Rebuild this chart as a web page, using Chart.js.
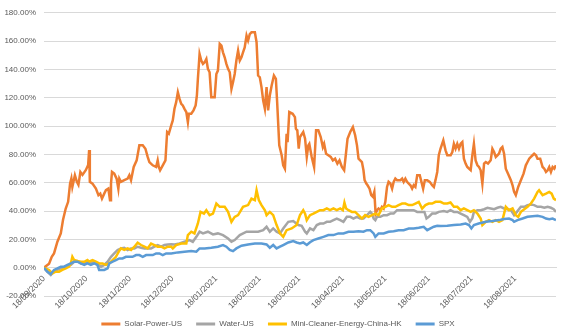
<!DOCTYPE html>
<html>
<head>
<meta charset="utf-8">
<script src="https://cdn.jsdelivr.net/npm/chart.js@4.4.1/dist/chart.umd.min.js"></script>
<style>
html,body{margin:0;padding:0;background:#fff;}
#wrap{width:573px;height:336px;position:relative;}
</style>
</head>
<body>
<div id="wrap"><canvas id="c" width="573" height="336"></canvas></div>
<script>
// Days since 18/09/2020 for x-axis ticks, and their labels
const tickDays = [0, 30, 61, 91, 122, 153, 181, 212, 242, 273, 303, 334];
const tickLabels = ['18/09/2020','18/10/2020','18/11/2020','18/12/2020','18/01/2021','18/02/2021','18/03/2021','18/04/2021','18/05/2021','18/06/2021','18/07/2021','18/08/2021'];

const seriesNames = ['Solar-Power-US', 'Water-US', 'Mini-Cleaner-Energy-China-HK', 'SPX'];

// Solar-Power-US (cumulative return, %)
const solarDays = [0,3.6,5.5,7.1,9.5,11.9,13.5,15.4,17.1,18.5,
19.4,20.1,21.9,23.3,24.4,25.8,27.3,29.7,31.3,32.0,
32.5,34.4,36.8,38.6,39.9,41.1,42.7,43.9,45.6,46.8,
47.5,48.2,49.8,51.5,52.7,53.4,54.6,56.9,59.3,60.5,
61.7,63.6,65.7,67.6,70.0,71.9,73.5,74.7,77.1,79.5,
80.6,81.4,82.3,84.2,86.1,87.3,88.5,90.2,91.3,92.5,
93.7,94.9,96.1,97.3,98.4,99.6,100.9,102.0,102.7,104.4,
106.0,107.5,108.4,109.1,110.3,111.5,112.7,113.9,115.1,116.2,
117.4,118.6,121.0,122.2,123.3,124.6,125.8,126.9,128.1,129.3,
130.5,131.7,132.9,134.0,135.2,136.4,137.6,138.8,140.0,141.1,
142.3,143.6,144.7,145.9,147.1,149.5,150.7,151.8,153.0,154.2,
155.4,156.6,157.8,158.9,160.1,161.4,163.0,164.4,165.3,166.8,
168.5,169.6,170.8,171.5,172.0,172.7,173.9,176.3,177.9,178.6,
179.6,180.6,181.5,183.8,185.1,186.3,187.4,188.1,189.8,191.5,
192.9,194.5,196.2,197.7,198.6,200.0,201.6,203.3,204.8,206.4,
208.0,209.5,211.2,212.8,214.2,215.2,217.1,219.0,220.6,221.9,
223.0,225.4,226.5,227.3,228.5,229.4,230.8,232.0,233.2,234.2,
235.1,236.1,237.2,238.4,239.6,240.8,242.0,243.2,244.3,245.6,
246.8,247.9,249.1,250.3,252.7,253.9,255.0,256.2,257.4,258.6,
259.8,261.0,262.1,263.3,264.6,266.4,267.6,268.8,270.0,271.7,
273.5,275.2,276.4,277.6,278.8,279.9,281.1,283.1,284.7,285.9,
288.3,289.5,290.6,291.8,293.0,294.2,295.4,296.6,297.7,298.9,
300.1,301.3,302.5,303.7,304.8,306.0,307.3,308.4,309.6,310.8,
312.0,313.2,314.8,316.7,317.9,319.1,320.3,321.5,322.6,323.8,
325.0,326.2,327.4,329.0,331.0,332.2,333.3,334.5,336.2,338.1,
340.0,341.6,342.8,344.0,345.2,346.4,347.5,348.8,349.9,351.8,
353.5,354.7,355.9,357.1,358.2,359.4,360.6,361.8,362.9];
const solarValues = [0,2.8,7.7,10.1,18.3,24.2,33.8,41.8,46.5,59.4,
62.9,57.0,65.3,60.6,58.5,67.6,65.5,69.0,72.5,83.1,
60.6,59.4,55.8,51.2,52.3,48.8,52.3,54.7,55.8,47.7,
59.4,67.6,66.4,62.9,55.8,62.9,60.6,61.8,62.9,65.3,
61.8,71.1,75.8,86.4,86.4,84.0,78.2,74.6,72.3,71.1,
75.8,71.1,68.8,72.3,75.8,95.8,94.6,100.5,104.0,112.2,
116.9,123.9,119.2,115.7,114.6,112.2,109.9,102.8,108.7,108.7,
111.1,114.6,121.6,133.3,150.9,146.3,143.9,145.1,147.4,140.4,
138.0,120.4,120.4,136.8,139.2,158.0,156.8,152.1,148.6,143.9,
140.4,138.0,126.3,131.0,136.8,146.3,153.3,146.3,148.6,152.1,
155.6,163.9,160.4,165.0,166.2,166.2,159.2,135.7,134.5,127.5,
118.1,112.2,127.5,111.1,121.6,128.7,135.7,133.3,116.9,86.4,
79.4,72.3,69.9,84.0,94.6,88.7,109.9,108.7,106.3,98.1,
97.0,84.0,92.3,95.8,91.1,78.2,86.4,87.5,78.2,71.1,
97.0,97.0,92.3,85.2,87.5,80.5,79.4,78.2,75.8,77.0,
73.5,75.8,71.1,68.8,81.7,91.1,95.8,99.3,93.5,86.4,
77.0,74.6,68.8,61.8,59.4,58.2,55.8,51.2,50.0,53.5,
38.2,40.6,41.8,40.6,43.0,41.8,46.5,57.0,60.6,59.4,
55.8,60.6,62.9,61.8,61.8,62.9,60.6,62.9,60.6,59.4,
58.2,55.8,58.2,57.0,65.3,65.3,60.6,55.8,61.8,61.8,
60.6,58.2,57.0,62.0,67.6,79.4,84.0,89.9,82.9,79.4,
79.4,81.7,87.5,84.0,87.5,84.0,87.5,88.7,77.0,73.5,
71.1,69.9,68.8,79.4,87.5,75.8,72.3,71.1,68.8,59.4,
73.5,74.6,73.5,75.8,84.0,81.7,78.2,79.4,80.5,84.0,
85.2,80.5,69.9,66.4,61.8,58.2,53.5,51.2,57.0,61.8,
66.4,72.3,74.6,77.0,78.2,79.4,80.5,79.4,77.0,77.0,
71.1,69.9,67.6,68.8,71.1,67.6,71.1,69.9,72.3];

// Water-US
const waterDays = [0,2.3,4.8,7.1,9.5,11.9,15.4,19.0,21.4,23.7,
26.1,28.5,30.8,33.2,35.6,37.9,40.4,42.7,45.1,47.5,
49.8,52.2,54.6,56.9,59.3,61.7,64.1,66.4,68.8,71.2,
73.5,75.9,78.3,80.6,83.1,85.4,87.8,90.2,92.5,96.1,
99.6,103.2,105.5,108.0,110.3,112.7,116.2,119.8,123.3,126.9,
130.5,132.9,135.2,138.8,143.6,148.2,151.8,155.4,157.8,160.1,
162.5,164.9,167.3,169.6,173.2,176.7,180.3,182.7,185.1,186.3,
188.6,191.0,193.4,195.7,198.1,200.5,202.8,205.2,207.6,210.0,
212.3,214.7,217.1,219.4,221.8,224.2,226.5,229.0,231.3,232.5,
233.7,234.9,236.1,238.4,240.8,243.2,245.6,247.9,250.3,252.7,
255.0,257.4,259.8,262.1,264.6,266.9,269.7,271.2,272.8,275.2,
277.6,279.9,283.5,285.9,288.2,290.6,293.0,295.4,297.7,300.1,
302.0,303.7,304.8,307.3,309.6,312.0,314.4,316.7,319.1,321.5,
323.8,326.2,328.6,331.0,333.3,335.3,338.1,340.5,342.8,345.2,
347.5,349.9,352.3,354.7,357.1,359.4,361.4,363.0];
const waterValues = [0,-2.8,-5.2,-2.8,-1.6,-0.5,0.7,1.9,4.2,4.7,
3.0,3.0,4.7,3.0,4.2,2.3,0.7,1.9,4.2,7.7,
10.1,12.5,13.6,14.1,12.5,13.6,13.6,14.8,14.1,13.6,
13.6,13.6,14.8,16.0,14.8,16.0,16.4,16.5,16.4,17.1,
18.3,19.5,18.3,21.8,25.4,24.2,25.4,23.5,24.2,23.0,
20.6,18.3,19.5,23.0,25.4,25.4,25.4,26.5,28.9,25.4,
27.7,25.4,24.2,27.7,32.4,32.9,30.1,29.5,25.4,24.2,
27.7,26.5,30.1,31.2,31.2,32.4,32.4,33.6,34.7,33.6,
32.4,35.9,35.9,34.7,35.9,34.7,34.7,37.1,39.4,38.2,
34.7,33.6,35.9,35.9,37.1,37.1,38.2,38.2,40.6,40.6,
40.6,40.6,40.6,40.6,39.4,39.4,39.4,34.7,35.9,38.2,
38.2,39.4,40.0,39.4,40.6,39.4,39.4,38.2,37.1,35.9,
32.4,35.0,39.4,40.6,40.6,41.3,42.3,41.8,41.3,42.3,
43.0,41.8,41.3,40.6,37.1,39.4,43.0,43.0,44.2,44.6,
44.2,43.0,43.0,42.3,43.0,42.3,41.3,39.4];

// Mini-Cleaner-Energy-China-HK
const miniDays = [0,3.6,5.9,8.3,10.7,13.0,15.4,17.8,19.0,20.1,
21.4,23.7,26.1,28.5,30.8,32.0,34.4,36.8,39.1,41.5,
43.9,46.3,48.6,51.0,53.4,54.6,56.9,59.3,61.7,64.1,
66.4,68.8,71.2,73.5,75.9,78.3,80.6,83.1,85.4,87.8,
90.2,91.3,93.7,97.3,100.9,102.0,104.4,106.7,109.1,111.0,
113.4,115.1,117.4,119.8,122.2,124.6,128.1,130.5,132.9,135.2,
137.6,141.1,144.7,147.1,149.5,150.7,152.3,154.2,156.6,157.8,
160.1,162.5,164.9,167.3,169.6,172.0,175.6,179.1,181.5,183.8,
185.1,186.3,188.6,191.0,193.4,195.7,198.1,200.5,202.8,205.2,
207.6,210.0,211.9,213.0,214.2,215.9,218.3,220.6,223.0,225.4,
227.7,230.1,232.5,234.9,237.2,239.6,242.0,244.3,246.8,249.1,
251.4,253.9,256.2,258.6,261.0,263.3,265.7,268.1,270.4,272.8,
275.2,277.6,281.1,283.5,285.9,288.2,290.6,293.0,295.4,297.7,
300.1,302.5,304.8,307.3,309.6,310.8,313.2,315.5,317.9,320.3,
322.6,325.0,326.2,327.4,329.7,332.2,334.5,336.2,338.1,340.5,
342.8,345.2,347.5,349.9,351.0,353.5,355.9,358.2,359.9,361.4,
363.0];
const miniValues = [0,-1.6,-4.0,-2.8,-2.8,-1.6,-0.5,0.7,3.0,7.7,
5.4,4.7,4.2,4.2,5.4,4.2,5.4,4.2,3.0,3.0,
1.9,3.0,5.4,7.7,12.0,13.6,12.5,13.6,12.5,14.8,
17.6,16.0,14.8,13.6,17.1,16.0,14.8,14.8,13.6,14.8,
14.8,13.6,16.0,17.1,17.1,23.0,25.4,24.2,31.2,39.4,
38.2,40.6,37.1,38.2,45.3,43.0,43.0,39.4,32.4,35.9,
37.1,43.0,44.2,48.8,47.7,54.7,47.7,44.2,40.6,37.1,
39.4,37.1,30.1,24.2,21.8,26.5,27.7,30.1,37.1,40.6,
38.2,33.6,37.1,38.2,39.4,40.6,40.6,41.8,40.6,41.8,
40.6,41.8,40.6,46.0,41.8,40.6,39.4,39.4,37.1,34.7,
37.1,35.9,37.1,38.2,37.1,41.8,43.0,44.2,43.0,43.0,
44.2,45.3,45.3,44.2,44.2,45.3,46.5,41.8,44.2,45.3,
45.3,46.5,46.5,45.3,45.3,46.0,43.0,43.0,40.6,41.8,
40.6,39.4,40.6,38.2,34.7,30.1,32.4,33.6,32.4,33.6,
32.4,33.6,38.2,43.0,40.6,41.8,37.1,35.9,39.4,41.3,
43.0,45.3,48.8,53.5,54.7,51.2,52.3,53.5,52.3,48.8,
47.7];

// SPX
const spxDays = [0,2.3,4.8,7.1,9.5,11.9,14.2,16.6,19.0,21.4,
23.7,26.1,28.5,30.8,33.2,35.6,37.9,39.1,40.4,42.7,
45.1,46.3,48.6,51.0,53.4,55.7,58.1,60.5,62.8,65.3,
67.6,70.0,72.4,74.7,77.1,79.5,81.8,84.2,86.6,90.2,
94.9,99.6,104.4,108.0,110.3,113.9,118.6,123.3,126.9,129.3,
131.7,134.0,136.4,140.0,144.7,149.5,154.2,157.8,160.1,162.5,
164.9,167.3,169.6,173.2,176.7,179.1,181.5,183.8,186.3,188.6,
191.0,194.5,198.1,201.6,205.2,208.7,212.3,215.9,219.4,223.0,
226.5,229.0,231.3,233.7,234.9,237.2,240.8,244.3,247.9,251.4,
255.0,258.6,262.1,265.7,269.2,271.7,274.0,276.4,278.8,281.1,
285.9,290.6,295.4,298.9,301.3,303.0,304.8,308.2,313.2,317.9,
322.6,326.2,329.7,332.2,333.3,335.7,339.3,342.8,346.4,349.9,
353.5,355.9,358.2,360.6,363.0];
const spxValues = [0,-2.8,-4.5,-1.6,-0.5,0.7,0.7,1.9,3.0,4.2,
4.2,3.0,1.9,3.0,1.9,3.0,1.9,-1.6,-1.6,-1.6,
-0.5,3.0,4.2,5.4,6.5,6.5,7.7,7.7,7.7,8.9,
8.9,7.7,8.9,8.9,8.9,10.1,10.1,8.9,10.1,10.1,
10.8,11.3,11.7,11.3,13.6,13.6,14.1,14.8,16.0,14.8,
12.5,11.7,13.6,15.5,16.4,17.1,17.1,16.4,14.1,16.0,
13.6,14.8,16.0,17.8,18.8,17.8,17.1,17.8,16.0,18.0,
19.5,20.6,21.8,23.0,23.0,24.2,24.2,25.4,25.4,25.8,
25.4,26.5,26.5,24.2,21.8,24.2,24.2,25.4,25.8,26.5,
26.5,27.7,27.7,28.2,28.9,26.5,27.7,28.9,29.6,29.5,
29.6,30.1,30.5,31.2,30.1,27.7,30.1,31.2,32.4,32.9,
33.6,34.3,34.7,33.6,32.4,33.6,34.7,35.9,36.4,36.6,
35.9,34.7,34.3,34.7,33.6];

const seriesColors = ['#ED7D31', '#A5A5A5', '#FFC000', '#5B9BD5'];

function toPoints(days, values) {
  const n = Math.min(days.length, values.length);
  const pts = [];
  for (let i = 0; i < n; i++) pts.push({x: days[i], y: values[i]});
  return pts;
}

const allDays = [solarDays, waterDays, miniDays, spxDays];
const allValues = [solarValues, waterValues, miniValues, spxValues];

const datasets = seriesNames.map((name, i) => ({
  label: name,
  data: toPoints(allDays[i], allValues[i]),
  borderColor: seriesColors[i],
  backgroundColor: seriesColors[i],
  borderWidth: 2.5,
  pointRadius: 0,
  tension: 0,
  order: 4 - i
}));

const textColor = '#595959';
const fontFamily = "'Liberation Sans', Arial, sans-serif";

const legendShift = {
  id: 'legendShift',
  afterLayout(chart) {
    const lg = chart.legend;
    if (lg) { lg.top += 10; lg.bottom += 10; }
  }
};

new Chart(document.getElementById('c'), {
  type: 'line',
  data: { datasets },
  plugins: [legendShift],
  options: {
    responsive: false,
    animation: false,
    devicePixelRatio: 1,
    layout: { padding: { left: 0, right: 17, top: 11, bottom: 8 } },
    scales: {
      x: {
        type: 'linear',
        position: { y: 0 },
        min: 0,
        max: 363,
        grid: { display: false, drawTicks: false },
        border: { display: true, color: '#d9d9d9', width: 1 },
        afterBuildTicks(scale) { scale.ticks = tickDays.map(v => ({ value: v })); },
        afterFit(scale) { scale.paddingLeft = 0; scale.paddingRight = 0; },
        ticks: {
          autoSkip: false,
          minRotation: 45,
          maxRotation: 45,
          padding: 6,
          color: textColor,
          font: { family: fontFamily, size: 8.5 },
          callback(value) {
            const idx = tickDays.indexOf(value);
            return idx >= 0 ? tickLabels[idx] : '';
          }
        }
      },
      y: {
        min: -20,
        max: 180,
        afterFit(scale) { scale.width = 44; },
        grid: { color: '#d9d9d9', lineWidth: 1, drawTicks: false },
        border: { display: false },
        ticks: {
          stepSize: 20,
          padding: 8,
          color: textColor,
          font: { family: fontFamily, size: 8 },
          callback(v) { return v.toFixed(2) + '%'; }
        }
      }
    },
    plugins: {
      legend: {
        position: 'bottom',
        labels: {
          boxWidth: 19,
          boxHeight: 3,
          padding: 14,
          color: textColor,
          font: { family: fontFamily, size: 8 },
          sort(a, b) { return a.datasetIndex - b.datasetIndex; },
          generateLabels(chart) {
            const items = Chart.defaults.plugins.legend.labels.generateLabels(chart);
            items.forEach(it => { it.lineWidth = 0; });
            return items;
          }
        }
      },
      tooltip: { enabled: false }
    }
  }
});
</script>
</body>
</html>
